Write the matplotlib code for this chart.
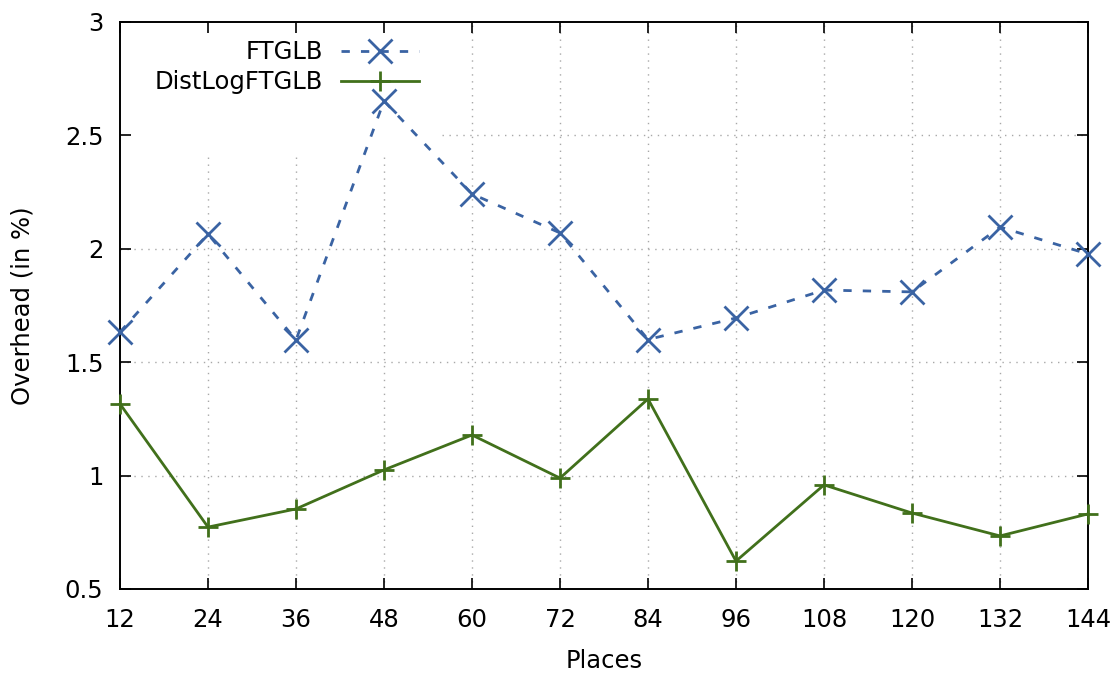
import matplotlib
matplotlib.use("Agg")
import matplotlib.pyplot as plt
import numpy as np

places = [12, 24, 36, 48, 60, 72, 84, 96, 108, 120, 132, 144]
ftglb = [1.633, 2.065, 1.598, 2.652, 2.242, 2.07, 1.60, 1.695, 1.818, 1.81, 2.096, 1.977]
distlog = [1.316, 0.773, 0.853, 1.025, 1.179, 0.989, 1.338, 0.623, 0.959, 0.835, 0.734, 0.831]
yticks = [0.5, 1, 1.5, 2, 2.5, 3]
ytick_labels = ['0.5', '1', '1.5', '2', '2.5', '3']

plt.rcParams['font.family'] = 'DejaVu Sans'
fs = 17.5

fig = plt.figure(figsize=(11.2, 6.77), dpi=100)
ax = fig.add_axes([120 / 1120, 88 / 677, 968 / 1120, 567 / 677])

ax.set_xlim(12, 144)
ax.set_ylim(0.5, 3)

# grid drawn by hand so the key area stays clear
key_right = 55.9
key_bottom = 2.414
for x in places[1:-1]:
    top = key_bottom if x < key_right else 3
    ax.plot([x, x], [0.5, top], color='#a8a8a8', lw=1.0, ls=(0, (1, 4)), zorder=1)
for y in yticks[1:-1]:
    left = key_right if y > key_bottom else 12
    ax.plot([left, 144], [y, y], color='#a8a8a8', lw=1.0, ls=(0, (1, 4)), zorder=1)

ax.plot(places, ftglb, color='#3a63a3', lw=2.0, ls=(0, (3, 4)), marker='x',
        markersize=17, markeredgewidth=2.0, label='FTGLB', zorder=3, clip_on=False)
ax.plot(places, distlog, color='#41701b', lw=2.0, marker='+',
        markersize=15, markeredgewidth=2.0, label='DistLogFTGLB', zorder=3, clip_on=False)

ax.set_xticks(places)
ax.set_xticklabels([str(p) for p in places], fontsize=fs)
ax.set_yticks(yticks)
ax.set_yticklabels(ytick_labels, fontsize=fs)
ax.tick_params(direction='in', length=8, width=1.2, top=True, right=True)
ax.tick_params(axis='x', pad=14)
ax.tick_params(axis='y', pad=12)
for s in ax.spines.values():
    s.set_linewidth(1.4)

ax.set_xlabel('Places', fontsize=fs, labelpad=12)
ax.set_ylabel('Overhead (in %)', fontsize=fs, labelpad=22)

ax.legend(loc='upper left', bbox_to_anchor=(0.026, 0.985), frameon=False, markerfirst=False,
          fontsize=fs, handlelength=3.2, handletextpad=0.75, labelspacing=0.25,
          borderaxespad=0)

fig.savefig('out.png', dpi=100)
